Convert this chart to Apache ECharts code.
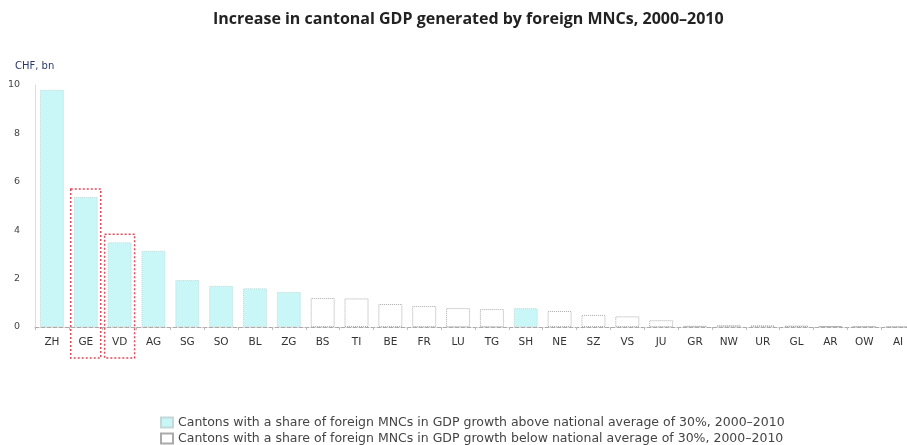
<!DOCTYPE html>
<html>
<head>
<meta charset="utf-8">
<script src="https://cdn.jsdelivr.net/npm/echarts@6/dist/echarts.min.js"></script>
<style>
  html, body { margin: 0; padding: 0; background: #fff; }
  #main { width: 907px; height: 445px; }
</style>
</head>
<body>
<div id="main"></div>
<script>
  // 州代码
  var cantons = ['ZH', 'GE', 'VD', 'AG', 'SG', 'SO', 'BL', 'ZG', 'BS', 'TI', 'BE', 'FR', 'LU',
    'TG', 'SH', 'NE', 'SZ', 'VS', 'JU', 'GR', 'NW', 'UR', 'GL', 'AR', 'OW', 'AI']
  // GDP 增量 (CHF bn)
  var gdpIncrease = [9.8, 5.37, 3.5, 3.15, 1.94, 1.7, 1.6, 1.45, 1.2, 1.18, 0.95, 0.87, 0.78,
    0.74, 0.78, 0.66, 0.5, 0.44, 0.28, 0.05, 0.08, 0.07, 0.06, 0.04, 0.03, 0.02]
  // 是否高于全国平均 30%
  var aboveAverage = [1, 1, 1, 1, 1, 1, 1, 1, 0, 0, 0, 0, 0, 0, 1, 0, 0, 0, 0, 0, 0, 0, 0, 0, 0, 0]
  var yTicks = [0, 2, 4, 6, 8, 10]
  var highlighted = ['GE', 'VD']

  var nameAbove = 'Cantons with a share of foreign MNCs in GDP growth above national average of 30%, 2000\u20132010'
  var nameBelow = 'Cantons with a share of foreign MNCs in GDP growth below national average of 30%, 2000\u20132010'

  var dataAbove = gdpIncrease.map(function (v, i) { return aboveAverage[i] ? v : '-' })
  var dataBelow = gdpIncrease.map(function (v, i) { return aboveAverage[i] ? '-' : v })

  var chart = echarts.init(document.getElementById('main'))
  var font = '"Open Sans", sans-serif'
  var wideFont = '"DejaVu Sans", sans-serif'

  var legendText = { fontFamily: wideFont, fontSize: 12.5, color: '#444' }

  chart.setOption({
    animation: false,
    title: [
      {
        text: 'Increase in cantonal GDP generated by foreign MNCs, 2000\u20132010',
        left: 208,
        top: 6,
        textStyle: { fontFamily: font, fontSize: 16, fontWeight: 'bold', color: '#222' }
      },
      {
        text: 'CHF, bn',
        left: 10,
        top: 56,
        textStyle: { fontFamily: wideFont, fontSize: 10, fontWeight: 'normal', color: '#2a3a66' }
      }
    ],
    legend: [
      {
        left: 155,
        top: 411,
        itemGap: 4,
        itemWidth: 12,
        itemHeight: 10,
        icon: 'rect',
        textStyle: legendText,
        data: [nameAbove]
      },
      {
        left: 155,
        top: 427,
        itemGap: 4,
        itemWidth: 12,
        itemHeight: 10,
        icon: 'rect',
        textStyle: legendText,
        data: [nameBelow]
      }
    ],
    grid: {
      left: 35,
      top: 85,
      width: 880,
      height: 242,
      outerBoundsMode: 'none'
    },
    xAxis: {
      type: 'category',
      data: cantons,
      axisLabel: {
        interval: 0,
        margin: 10,
        fontFamily: wideFont,
        fontSize: 10.5,
        color: '#333'
      },
      axisTick: { show: true, length: 3, lineStyle: { color: '#bbb' } },
      axisLine: { lineStyle: { color: '#aaa', type: 'dashed' } },
      splitLine: { show: false }
    },
    yAxis: {
      type: 'value',
      min: yTicks[0],
      max: yTicks[yTicks.length - 1],
      interval: 2,
      axisLabel: { margin: 15, fontFamily: wideFont, fontSize: 9.5, color: '#444' },
      axisLine: { show: true, lineStyle: { color: '#ddd' } },
      axisTick: { show: false },
      splitLine: { show: false }
    },
    series: [
      {
        name: nameAbove,
        type: 'bar',
        data: dataAbove,
        barWidth: 24,
        barGap: '-100%',
        itemStyle: {
          color: '#c9f6f6',
          borderColor: '#c4d8d8',
          borderWidth: 1,
          borderType: 'dotted'
        }
      },
      {
        name: nameBelow,
        type: 'bar',
        data: dataBelow,
        barWidth: 24,
        barGap: '-100%',
        itemStyle: {
          color: '#fff',
          borderColor: '#aaa',
          borderWidth: 1,
          borderType: 'dotted'
        }
      }
    ]
  })

  // 红色虚线框 标注 GE / VD
  var boxes = highlighted.map(function (c) {
    var i = cantons.indexOf(c)
    var top = chart.convertToPixel({ gridIndex: 0 }, [c, gdpIncrease[i]])
    var base = chart.convertToPixel({ gridIndex: 0 }, [c, 0])
    return {
      type: 'rect',
      shape: { x: top[0] - 15, y: top[1] - 8, width: 30, height: base[1] + 31 - (top[1] - 8) },
      style: { fill: 'none', stroke: '#e0485a', lineWidth: 1.5, lineDash: [2, 2] },
      z: 100
    }
  })
  chart.setOption({ graphic: boxes })
</script>
</body>
</html>
